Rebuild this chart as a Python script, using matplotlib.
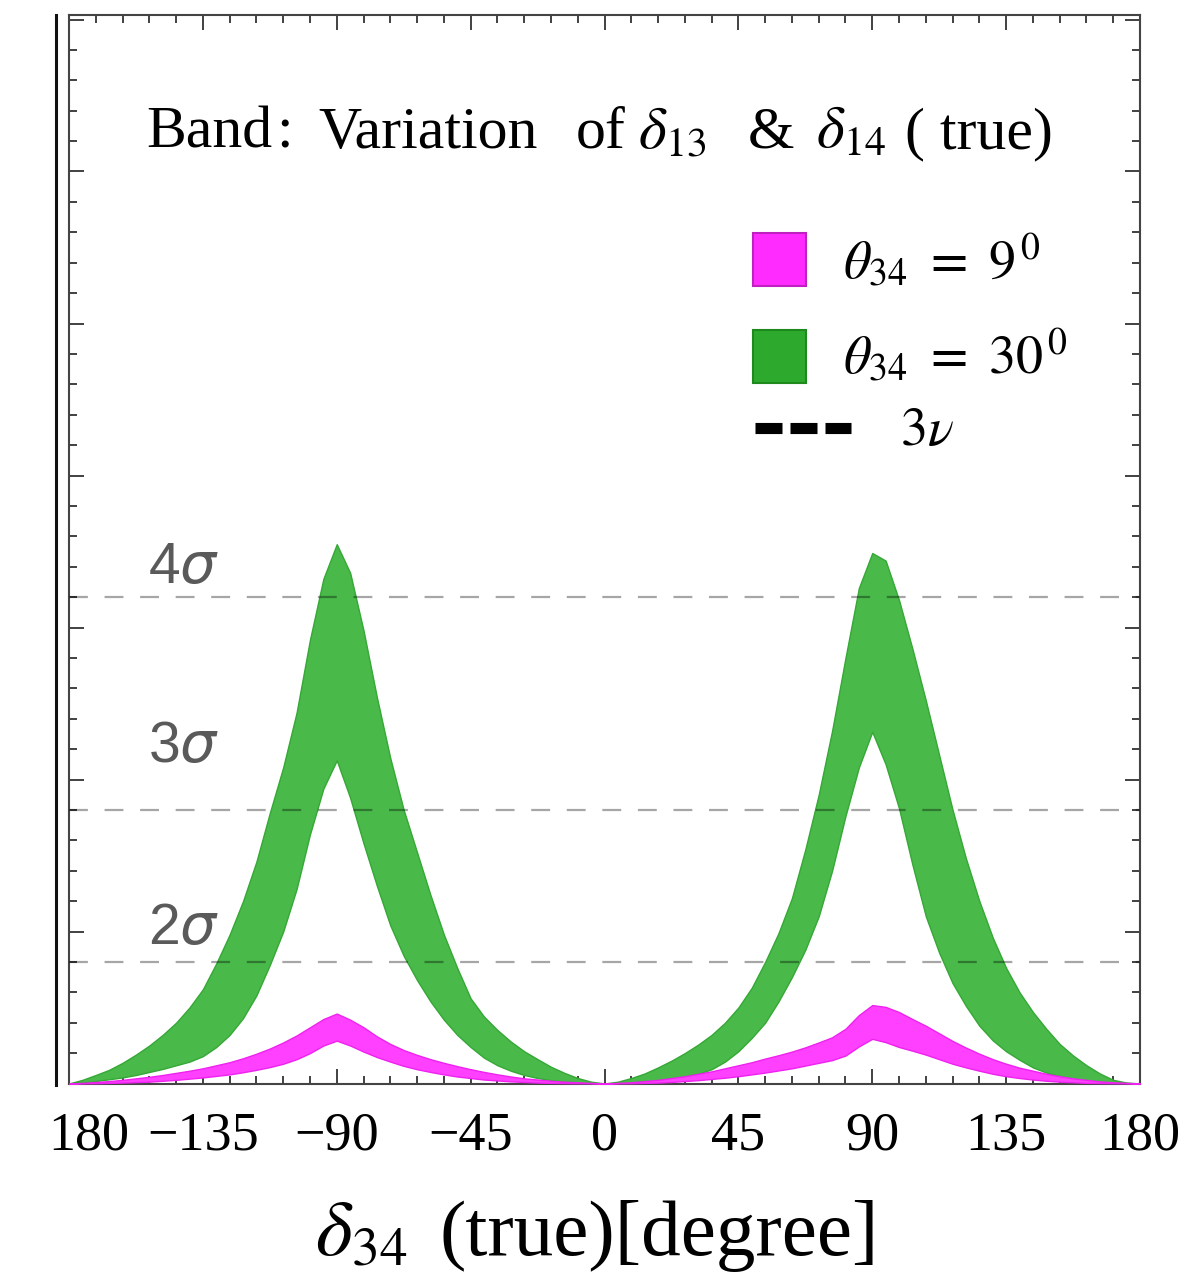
import numpy as np
import matplotlib
matplotlib.use("Agg")
import matplotlib.pyplot as plt
from matplotlib.ticker import MultipleLocator, NullFormatter
from matplotlib.patches import Rectangle
from matplotlib.lines import Line2D
import matplotlib.transforms as mtransforms

plt.rcParams['font.family'] = ['Liberation Serif', 'DejaVu Serif']
plt.rcParams['mathtext.fontset'] = 'stix'

# ---------------- data ----------------
delta34 = np.arange(-180, 180.1, 4.5)

# theta34 = 30 deg band (lower / upper edge), Delta chi^2
green_upper = [0, 0.12, 0.28, 0.45, 0.68, 0.95, 1.25, 1.6, 2.0, 2.5, 3.1,
               3.95, 4.9, 6.0, 7.3, 8.9, 10.4, 12.2, 14.6, 16.6, 17.74,
               16.8, 14.9, 12.7, 10.7, 9.0, 7.6, 6.2, 4.9, 3.8, 2.8,
               2.2, 1.76, 1.38, 1.06, 0.8, 0.55, 0.35, 0.18, 0.06, 0,
               0.06, 0.18, 0.33, 0.53, 0.75, 1.0, 1.28, 1.6, 2.0, 2.5,
               3.15, 4.0, 4.95, 6.1, 7.7, 9.5, 11.6, 14.0, 16.3, 17.45,
               17.2, 15.9, 14.3, 12.6, 10.8, 9.0, 7.4, 6.0, 4.8, 3.8,
               3.0, 2.35, 1.8, 1.3, 0.92, 0.6, 0.33, 0.12, 0.03, 0]
green_lower = [0, 0.03, 0.08, 0.14, 0.2, 0.28, 0.38, 0.48, 0.6, 0.72, 0.9,
               1.2, 1.6, 2.15, 2.9, 3.9, 5.0, 6.4, 8.2, 9.7, 10.63,
               9.4, 7.9, 6.5, 5.2, 4.2, 3.4, 2.7, 2.1, 1.6, 1.2,
               0.85, 0.6, 0.42, 0.28, 0.18, 0.11, 0.06, 0.03, 0.01, 0,
               0.01, 0.03, 0.06, 0.1, 0.14, 0.2, 0.32, 0.47, 0.72, 1.06,
               1.5, 2.0, 2.7, 3.5, 4.4, 5.5, 7.0, 8.8, 10.4, 11.57,
               10.5, 9.05, 7.2, 5.5, 4.3, 3.3, 2.55, 1.9, 1.42, 1.06,
               0.78, 0.53, 0.36, 0.24, 0.15, 0.08, 0.04, 0.02, 0.01, 0]

# theta34 = 9 deg band
magenta_upper = [0, 0.02, 0.05, 0.08, 0.12, 0.17, 0.22, 0.28, 0.35, 0.42, 0.5,
                 0.6, 0.7, 0.83, 0.98, 1.15, 1.35, 1.58, 1.85, 2.12, 2.3,
                 2.1, 1.85, 1.55, 1.3, 1.1, 0.94, 0.8, 0.68, 0.57, 0.47,
                 0.38, 0.3, 0.23, 0.17, 0.13, 0.09, 0.06, 0.04, 0.02, 0,
                 0.02, 0.04, 0.08, 0.12, 0.18, 0.24, 0.32, 0.4, 0.5, 0.6,
                 0.7, 0.82, 0.93, 1.05, 1.19, 1.35, 1.52, 1.8, 2.25, 2.58,
                 2.52, 2.35, 2.12, 1.9, 1.65, 1.4, 1.18, 0.98, 0.8, 0.65,
                 0.52, 0.42, 0.32, 0.24, 0.17, 0.12, 0.07, 0.04, 0.02, 0]
magenta_lower = [0, 0.005, 0.01, 0.02, 0.03, 0.045, 0.06, 0.09, 0.12, 0.16, 0.2,
                 0.25, 0.3, 0.37, 0.45, 0.54, 0.65, 0.8, 1.0, 1.25, 1.41,
                 1.25, 1.05, 0.87, 0.72, 0.58, 0.47, 0.38, 0.3, 0.23, 0.18,
                 0.13, 0.1, 0.07, 0.05, 0.03, 0.02, 0.015, 0.01, 0.005, 0,
                 0.005, 0.01, 0.02, 0.03, 0.05, 0.08, 0.11, 0.15, 0.19, 0.24,
                 0.3, 0.36, 0.43, 0.5, 0.59, 0.68, 0.77, 0.92, 1.22, 1.47,
                 1.36, 1.2, 1.08, 0.95, 0.8, 0.65, 0.53, 0.42, 0.32, 0.24,
                 0.18, 0.13, 0.09, 0.06, 0.04, 0.02, 0.015, 0.01, 0.005, 0]

sigma_levels = [4, 9, 16]
sigma_labels = [r'2$\sigma$', r'3$\sigma$', r'4$\sigma$']
sigma_label_y = [5.08, 11.07, 16.95]

xtick_vals = [-180, -135, -90, -45, 0, 45, 90, 135, 180]
xtick_labels = ['180', '\u2212135', '\u221290', '\u221245', '0', '45', '90', '135', '180']

legend_labels = [r'$\theta_{34}\ =\ 9^{\,0}$', r'$\theta_{34}\ =\ 30^{\,0}$', r'$3\nu$']

title_pieces = ['Band', ':', 'Variation', 'of', r'$\delta_{13}$', '&',
                r'$\delta_{14}$', '( true)']

# ---------------- figure ----------------
W, H = 1200, 1273
fig = plt.figure(figsize=(W / 100, H / 100), dpi=100)
L, R, T, B = 69, 1140, 15, 1083.5
ax = fig.add_axes([L / W, 1 - B / H, (R - L) / W, (B - T) / H])


def fx(px):
    return px / W


def fy(py):
    return 1 - py / H


green_face = '#49b94a'
green_edge = '#35a835'
mag_face = '#ff40ff'
mag_edge = '#ee22ee'

ax.fill_between(delta34, green_lower, green_upper, facecolor=green_face,
                edgecolor=green_edge, linewidth=1.0, zorder=2)
ax.fill_between(delta34, magenta_lower, magenta_upper, facecolor=mag_face,
                edgecolor=mag_edge, linewidth=1.0, zorder=3)

for lvl in sigma_levels:
    ax.axhline(lvl, color='black', alpha=0.35, lw=1.6, dashes=(8.5, 7.5),
               zorder=4)

for lab, yy in zip(sigma_labels, sigma_label_y):
    ax.text(-153.6, yy, lab, fontsize=41, color='#5a5a5a', va='center',
            ha='left', family='Liberation Sans', math_fontfamily='dejavusans',
            zorder=5)

ax.set_xlim(-180, 180)
ax.set_ylim(0, (B - T) / 30.4)
ax.set_xticks(xtick_vals)
ax.set_xticklabels(xtick_labels, fontsize=39)
ax.xaxis.set_minor_locator(MultipleLocator(9))
ax.yaxis.set_major_locator(MultipleLocator(5))
ax.yaxis.set_minor_locator(MultipleLocator(1))
ax.yaxis.set_major_formatter(NullFormatter())
ax.tick_params(which='both', direction='in', top=True, right=True,
               color='#333333', width=1.3)
ax.tick_params(which='major', length=11, pad=20)
ax.tick_params(which='minor', length=6)
for sp in ax.spines.values():
    sp.set_color('#444444')
    sp.set_linewidth(1.5)

# shift first tick label (cut-off -180 in original)
off = mtransforms.ScaledTranslation(20 / 100, 0, fig.dpi_scale_trans)
lab0 = ax.get_xticklabels()[0]
lab0.set_transform(lab0.get_transform() + off)

# outer frame line to the left
fig.add_artist(Line2D([fx(56), fx(56)], [fy(1085), fy(15)],
                      transform=fig.transFigure, color='#111111', lw=2.2))

# x label
fig.text(fx(315), fy(1255), r'$\delta_{34}$', fontsize=57, ha='left',
         va='baseline')
fig.text(fx(440), fy(1255), '(true)[degree]', fontsize=57, ha='left',
         va='baseline')

# inner title (pieces placed as in original)
title_x = [146, 276, 318, 576, 638, 748, 816, 905]
for txt, px in zip(title_pieces, title_x):
    fig.text(fx(px), fy(148), txt, fontsize=43, ha='left', va='baseline')

# legend (manual)
fig.add_artist(Rectangle((fx(753), fy(286)), 53 / W, 53 / H,
                         transform=fig.transFigure, facecolor='#ff2bff',
                         edgecolor='#c020c0', lw=1.5))
fig.add_artist(Rectangle((fx(753), fy(383)), 53 / W, 53 / H,
                         transform=fig.transFigure, facecolor='#2daa2d',
                         edgecolor='#1e8a1e', lw=1.5))
fig.add_artist(Line2D([fx(755), fx(851)], [fy(428), fy(428)],
                      transform=fig.transFigure, color='black', lw=8,
                      dashes=(2.43, 0.72), solid_capstyle='butt',
                      dash_capstyle='butt'))
fig.text(fx(843), fy(262), legend_labels[0], fontsize=39, va='center', ha='left')
fig.text(fx(843), fy(357), legend_labels[1], fontsize=39, va='center', ha='left')
fig.text(fx(900), fy(432), legend_labels[2], fontsize=39, va='center', ha='left')

fig.savefig('out.png', dpi=100)
